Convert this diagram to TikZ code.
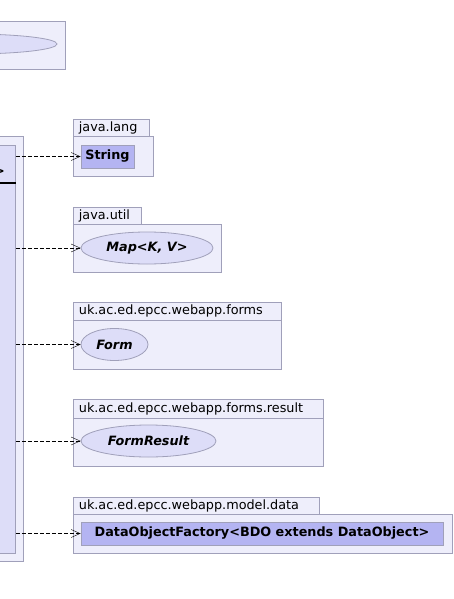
\documentclass[tikz,border=0pt]{standalone}
\usepackage{fontspec}
\setmainfont{DejaVu Sans}
\usetikzlibrary{arrows.meta,shapes.geometric}
\definecolor{pkgfill}{RGB}{238,238,251}
\definecolor{pkgline}{RGB}{160,160,186}
\definecolor{clsfill}{RGB}{180,180,242}
\definecolor{ifcfill}{RGB}{221,221,248}
\begin{document}
\begin{tikzpicture}[x=1pt,y=-1pt,
    pkg/.style={draw=pkgline, fill=pkgfill, line width=0.8pt, anchor=north west, inner sep=0pt},
    pkgtab/.style={pkg, text width=#1-11pt, align=left, inner xsep=5.5pt, font=\fontsize{12.8}{14}\selectfont},
    cls/.style={draw=pkgline, fill=clsfill, line width=0.8pt, inner sep=0pt, font=\fontsize{12.8}{14}\selectfont\bfseries},
    ifc/.style={ellipse, draw=pkgline, fill=ifcfill, line width=0.8pt, inner sep=0pt, font=\fontsize{12.8}{14}\selectfont\bfseries\itshape},
    dep/.style={dashed, dash pattern=on 4pt off 2pt, -{Straight Barb[length=9pt,width=8pt]}}]
  \useasboundingbox (0,0) rectangle (454,599);
  % packages cut by the left edge
  \node[pkg, minimum width=70pt, minimum height=48pt] (toppkg) at (-5,21) {};
  \node[ifc, minimum width=174pt, minimum height=20pt] (topifc) at (-30,44) {};
  \node[pkg, minimum width=28pt, minimum height=425pt] (mainpkg) at (-5,136) {};
  \node[pkg, fill=ifcfill, minimum width=20pt, minimum height=408pt] (maincls) at (-5,145) {};
  \draw[line width=2pt] (maincls.north west |- 0,183) -- (maincls.east |- 0,183);
  \node[font=\fontsize{12.8}{14}\selectfont\bfseries, inner sep=0pt, anchor=east] (mainname) at (5,172) {>};
  % java.lang
  \node[pkgtab=76pt, minimum height=17pt] (langtab) at (73,119) {java.lang};
  \node[pkg, minimum width=80pt, minimum height=40pt] (langpkg) at (73,136) {};
  \node[cls, minimum width=53pt, minimum height=23pt] (string) at (107.5,156.5) {String};
  % java.util
  \node[pkgtab=68pt, minimum height=17pt] (utiltab) at (73,207) {java.util};
  \node[pkg, minimum width=148pt, minimum height=48pt] (utilpkg) at (73,224) {};
  \node[ifc, minimum width=132pt, minimum height=32pt] (map) at (147,248) {Map<K, V>};
  % forms
  \node[pkgtab=208pt, minimum height=18pt] (formstab) at (73,302) {uk.ac.ed.epcc.webapp.forms};
  \node[pkg, minimum width=208pt, minimum height=49pt] (formspkg) at (73,320) {};
  \node[ifc, minimum width=67pt, minimum height=32pt] (form) at (114.5,344.5) {Form};
  % forms.result
  \node[pkgtab=250pt, minimum height=19pt] (resulttab) at (73,399) {uk.ac.ed.epcc.webapp.forms.result};
  \node[pkg, minimum width=250pt, minimum height=48pt] (resultpkg) at (73,418) {};
  \node[ifc, minimum width=135pt, minimum height=32pt] (formresult) at (148.5,441) {FormResult};
  % model.data
  \node[pkgtab=246pt, minimum height=17pt] (datatab) at (73,497) {uk.ac.ed.epcc.webapp.model.data};
  \node[pkg, minimum width=379pt, minimum height=39pt] (datapkg) at (73,514) {};
  \node[cls, minimum width=362pt, minimum height=23pt] (factory) at (262,533.5) {DataObjectFactory<BDO extends DataObject>};
  % dependencies
  \foreach \t in {string,map,form,formresult,factory}
    \draw[dep] (maincls.east |- \t.west) -- (\t.west);
\end{tikzpicture}
\end{document}
